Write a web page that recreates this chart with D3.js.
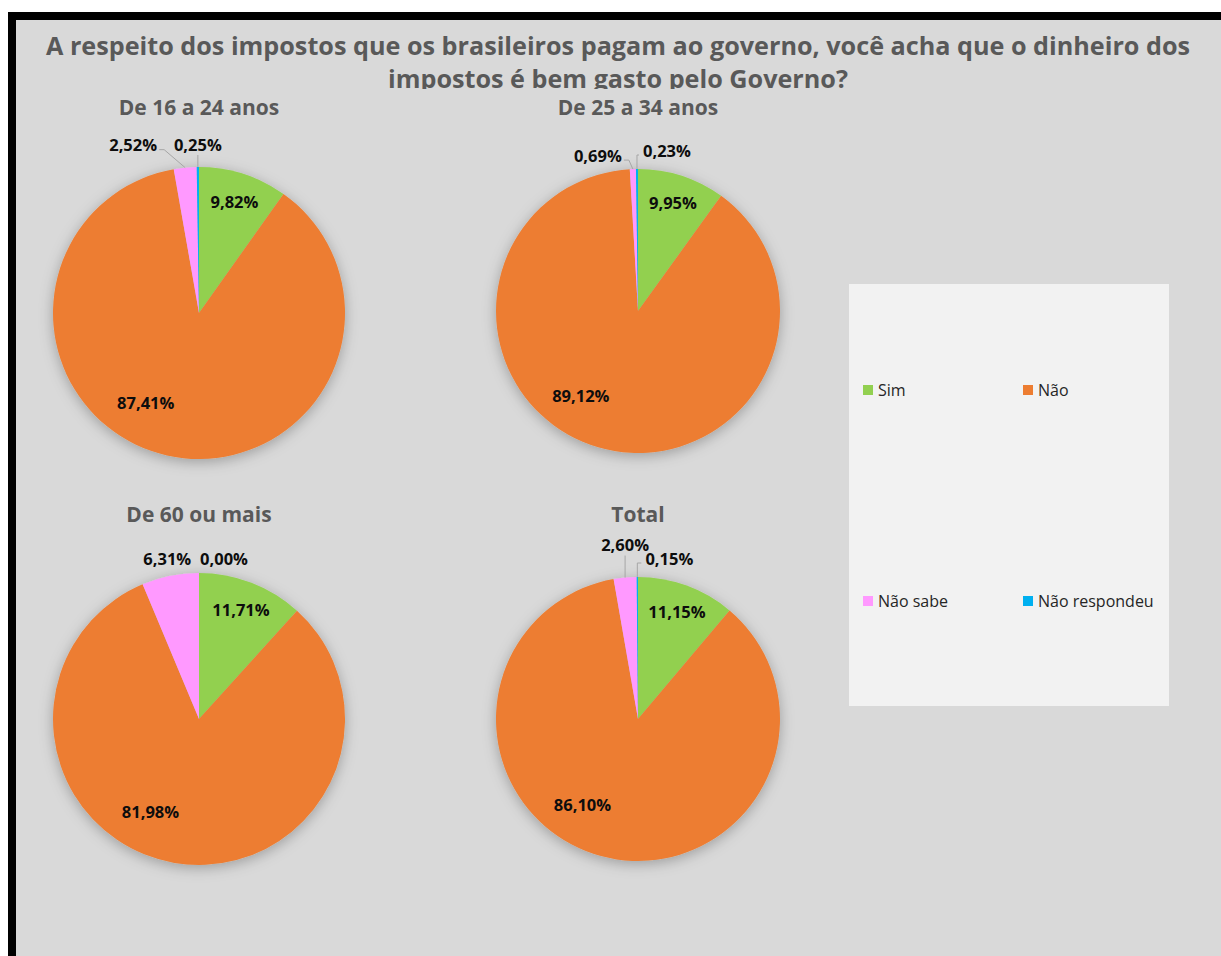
<!DOCTYPE html>
<html>
<head>
<meta charset="utf-8">
<script src="https://cdn.jsdelivr.net/npm/d3@7"></script>
<style>
    body { margin: 0; background: #fff; }
    svg { display: block; }
    text { font-family: "Open Sans", "Noto Sans", sans-serif; }
</style>
</head>
<body>
<div id="chart"></div>
<script>
// data
const categories = ["Sim", "Não", "Não sabe", "Não respondeu"];
const groups = ["De 16 a 24 anos", "De 25 a 34 anos", "De 60 ou mais", "Total"];
const values16a24 = [9.82, 87.41, 2.52, 0.25];
const values25a34 = [9.95, 89.12, 0.69, 0.23];
const values60mais = [11.71, 81.98, 6.31, 0.00];
const valuesTotal = [11.15, 86.10, 2.60, 0.15];
const titleLines = [
    "A respeito dos impostos que os brasileiros pagam ao governo, você acha que o dinheiro dos",
    "impostos é bem gasto pelo Governo?"
];

const colors = ["#92d050", "#ed7d31", "#ff99ff", "#00b0f0"];

const width = 1221;
const height = 956;

// pie layout (centre, radius, subtitle position) per group
const pieLayout = [
    { cx: 199, cy: 313, r: 146, tx: 199, ty: 115 },
    { cx: 638, cy: 311, r: 142, tx: 638, ty: 115 },
    { cx: 199, cy: 719, r: 146, tx: 199, ty: 522 },
    { cx: 638, cy: 719, r: 142, tx: 638, ty: 522 }
];

// outside label offsets for the small slices (relative to slice edge point)
const outsideOffsets = [
    [null, null, { dx: -52, dy: -22, line: true }, { dx: 0, dy: -22, line: true }],
    [null, null, { dx: -35, dy: -13, line: true }, { dx: 30, dy: -18, line: true }],
    [null, null, { dx: -3, dy: -17, line: false }, { dx: 25, dy: -14, line: false }],
    [null, null, { dx: 0, dy: -32, line: true }, { dx: 32, dy: -18, line: true }]
];

const allValues = [values16a24, values25a34, values60mais, valuesTotal];

const color = d3.scaleOrdinal().domain(categories).range(colors);
const fmt = v => d3.format(".2f")(v).replace(".", ",") + "%";

const svg = d3.select("#chart")
    .append("svg")
    .attr("width", width)
    .attr("height", height);

const defs = svg.append("defs");
const shadow = defs.append("filter")
    .attr("id", "shadow")
    .attr("x", "-20%").attr("y", "-20%")
    .attr("width", "140%").attr("height", "140%");
shadow.append("feDropShadow")
    .attr("dx", 0).attr("dy", 3)
    .attr("stdDeviation", 7)
    .attr("flood-color", "#000")
    .attr("flood-opacity", 0.28);

defs.append("clipPath").attr("id", "titleClip")
    .append("rect").attr("x", 16).attr("y", 20).attr("width", width).attr("height", 69);

// frame: black border on top and left, gray chart area
svg.append("rect").attr("x", 8).attr("y", 12).attr("width", width - 8).attr("height", height - 12).attr("fill", "#000");
svg.append("rect").attr("x", 16).attr("y", 20).attr("width", width - 16).attr("height", height - 20).attr("fill", "#d9d9d9");

// main title (second line is cut off like in the original)
svg.append("g")
    .attr("clip-path", "url(#titleClip)")
    .selectAll("text")
    .data(titleLines)
    .enter()
    .append("text")
    .attr("x", 618)
    .attr("y", (d, i) => 55 + i * 33)
    .attr("text-anchor", "middle")
    .attr("font-size", 25.2)
    .attr("font-weight", "bold")
    .attr("fill", "#595959")
    .text(d => d);

const pie = d3.pie().sort(null).value(d => d);

allValues.forEach((vals, gi) => {
    const lay = pieLayout[gi];
    const g = svg.append("g").attr("transform", `translate(${lay.cx},${lay.cy})`);
    const arcs = pie(vals);
    const arc = d3.arc().innerRadius(0).outerRadius(lay.r);

    svg.append("text")
        .attr("x", lay.tx)
        .attr("y", lay.ty)
        .attr("text-anchor", "middle")
        .attr("font-size", 21)
        .attr("font-weight", "bold")
        .attr("fill", "#595959")
        .text(groups[gi]);

    g.append("g")
        .attr("filter", "url(#shadow)")
        .selectAll("path")
        .data(arcs)
        .enter()
        .append("path")
        .attr("d", arc)
        .attr("fill", (d, i) => color(categories[i]));

    arcs.forEach((d, i) => {
        const mid = (d.startAngle + d.endAngle) / 2;
        const off = outsideOffsets[gi][i];
        if (!off) {
            // inside label; the big slice is shifted like Excel's best fit
            const ang = i === 1 ? mid + 0.31 : mid;
            const rr = i === 1 ? lay.r * 0.72 : lay.r * 0.8;
            g.append("text")
                .attr("x", Math.sin(ang) * rr)
                .attr("y", -Math.cos(ang) * rr)
                .attr("dy", "0.35em")
                .attr("text-anchor", "middle")
                .attr("font-size", 16.5)
                .attr("font-weight", "bold")
                .attr("fill", "#0d0d0d")
                .text(fmt(d.data));
        } else {
            const ex = Math.sin(mid) * lay.r;
            const ey = -Math.cos(mid) * lay.r;
            const lx = ex + off.dx;
            const ly = ey + off.dy;
            if (off.line) {
                let path;
                if (Math.abs(off.dx) <= 15) {
                    path = [[ex, ey], [ex + off.dx, ly + 10]];
                } else if (off.dx < 0) {
                    path = [[ex, ey], [lx + 31, ly + 4], [lx + 26, ly + 4]];
                } else {
                    path = [[ex, ey], [ex, ly + 4], [lx - 28, ly + 4]];
                }
                g.append("path")
                    .attr("d", d3.line()(path))
                    .attr("fill", "none")
                    .attr("stroke", "#a6a6a6")
                    .attr("stroke-width", 1);
            }
            g.append("text")
                .attr("x", lx)
                .attr("y", ly)
                .attr("dy", "0.35em")
                .attr("text-anchor", "middle")
                .attr("font-size", 16.5)
                .attr("font-weight", "bold")
                .attr("fill", "#0d0d0d")
                .text(fmt(d.data));
        }
    });
});

// legend
const legend = svg.append("g");
legend.append("rect")
    .attr("x", 849).attr("y", 284)
    .attr("width", 320).attr("height", 422)
    .attr("fill", "#f2f2f2");

const legendPos = d3.scalePoint().domain([0, 1]).range([863, 1023]);
const legendRow = d3.scalePoint().domain([0, 1]).range([390, 601]);

const item = legend.selectAll("g.item")
    .data(categories)
    .enter()
    .append("g")
    .attr("class", "item")
    .attr("transform", (d, i) => `translate(${legendPos(i % 2)},${legendRow(Math.floor(i / 2))})`);

item.append("rect")
    .attr("x", 0).attr("y", -5)
    .attr("width", 10).attr("height", 10)
    .attr("fill", d => color(d));

item.append("text")
    .attr("x", 15)
    .attr("y", 0)
    .attr("dy", "0.35em")
    .attr("font-size", 16)
    .attr("fill", "#262626")
    .text(d => d);
</script>
</body>
</html>
